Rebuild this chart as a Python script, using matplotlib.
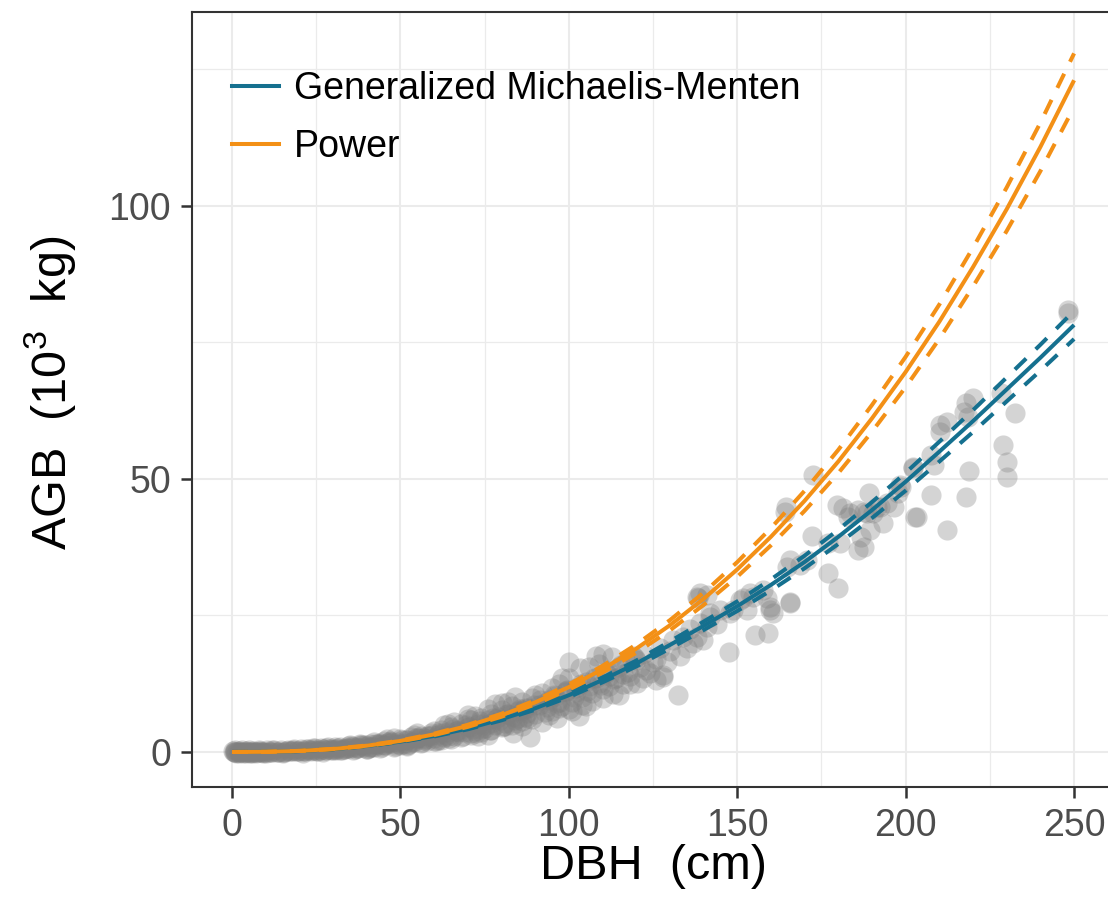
import matplotlib
matplotlib.use("Agg")
import matplotlib.pyplot as plt
from matplotlib.lines import Line2D
from matplotlib.ticker import MultipleLocator

plt.rcParams['font.family'] = ['Liberation Sans', 'DejaVu Sans']
plt.rcParams['mathtext.fontset'] = 'custom'
plt.rcParams['mathtext.rm'] = 'Liberation Sans'
plt.rcParams['mathtext.default'] = 'regular'

# ---------------- data ----------------
curve_dbh = [0, 10, 20, 30, 40, 50, 60, 70, 80, 90, 100, 110, 120, 130, 140, 150,
             160, 170, 180, 190, 200, 210, 220, 230, 240, 250]
gmm_fit = [0, 0.03, 0.18, 0.52, 1.1, 1.9, 2.95, 4.3, 6.0, 8.0, 10.4, 13.2, 16.2, 19.6,
           23.1, 26.7, 30.6, 34.8, 39.4, 44.3, 49.5, 55.0, 60.6, 66.4, 72.2, 78.2]
gmm_hi = [0, 0.03, 0.19, 0.54, 1.14, 1.96, 3.05, 4.44, 6.2, 8.26, 10.74, 13.64, 16.73,
          20.25, 23.86, 27.58, 31.61, 35.95, 40.7, 45.76, 51.13, 56.82, 62.6, 68.59, 74.58, 80.78]
gmm_lo = [0, 0.03, 0.17, 0.5, 1.06, 1.84, 2.85, 4.16, 5.8, 7.74, 10.06, 12.76, 15.67,
          18.95, 22.34, 25.82, 29.59, 33.65, 38.1, 42.84, 47.87, 53.19, 58.6, 64.21, 69.82, 75.62]
pow_fit = [0, 0.033, 0.196, 0.552, 1.15, 2.03, 3.23, 4.79, 6.73, 9.09, 11.89, 15.16, 18.92,
           23.21, 28.04, 33.44, 39.42, 46.0, 53.2, 61.1, 69.6, 78.8, 88.8, 99.4, 110.8, 123.0]
pow_hi = [0, 0.034, 0.204, 0.574, 1.196, 2.11, 3.36, 4.98, 7.0, 9.45, 12.37, 15.77, 19.68,
          24.14, 29.16, 34.78, 41.0, 47.84, 55.33, 63.54, 72.38, 81.95, 92.35, 103.38, 115.23, 127.92]
pow_lo = [0, 0.032, 0.188, 0.53, 1.104, 1.95, 3.1, 4.6, 6.46, 8.73, 11.41, 14.55, 18.16,
          22.28, 26.92, 32.1, 37.84, 44.16, 51.07, 58.66, 66.82, 75.65, 85.25, 95.42, 106.37, 118.08]

obs_dbh = [
    0.5, 1, 2, 3, 4, 5, 6, 7, 8, 9, 10, 12, 14, 16, 18, 20, 22, 24, 26, 28, 30,
    22, 25, 28, 30, 27,
    31, 32, 33, 34, 35, 36, 37, 38, 39, 40, 41, 42, 43, 44, 45, 46, 47, 48, 49, 50,
    51, 52, 53, 54, 55, 56, 57, 58, 59, 60,
    35, 40, 45, 50, 55, 60, 42, 48, 52, 58,
    61, 62, 63, 64, 65, 66, 67, 68, 69, 70, 71, 72, 73, 74, 75, 76, 77, 78, 79, 80,
    81, 82, 83, 84, 85, 86, 87, 88, 89, 90,
    63, 66, 70, 73, 76, 80, 84, 86, 88.5, 83.5, 78, 90, 72,
    91, 92, 93, 94, 95, 96.6, 96.5, 97, 98, 99, 100, 101, 102, 103.4, 104, 105, 106, 107,
    108, 109, 110, 111, 112, 112.9, 114, 115, 116, 117, 118, 119, 120.3, 121, 122, 124, 125,
    92, 95, 98, 100, 105, 108, 110, 115, 100, 103,
    128, 128, 126, 127, 129, 130, 131, 133, 134, 135, 136, 137, 138.1, 139, 139.9,
    138.4, 141.1, 138.1, 142, 139, 142, 141.1, 144, 145, 132.5,
    147.4, 147.9, 148.8, 150.9, 151.8, 153, 153.9, 154.8, 155.4, 157.5, 158.9, 159.2,
    159.8, 159.8, 160.7, 164.3, 164.6, 164.9, 165.8, 165.8, 165.8, 168.7, 170.8, 172.3,
    172.6, 176.8, 176.8, 179.7, 180, 180.6, 181.5, 183, 183.6, 185.7, 185.7, 186.6,
    187.5, 187.5, 188.6, 189, 189.5, 190.4, 191.6, 192.5, 193.4, 194.6, 196.4, 197.6,
    198.4, 198.5,
    202.3, 202.3, 202.9, 203.5, 207.4, 208.3, 207.4, 210.3, 210.3, 212.4, 212.4, 217.2,
    217.8, 218.4, 220.1, 218.7, 217.8, 228.2, 228.8, 230.2, 230.2, 232.6, 248.1, 248.1,
    # second pass through the dense lower cloud
    0.8, 1.5, 2.5, 3.5, 4.5, 5.5, 6.5, 7.5, 8.5, 9.5, 11, 13, 15, 17, 19, 21, 23, 25, 29,
    1, 2, 3, 4, 5, 6, 8, 10, 12, 15, 18, 21, 24, 27,
    31.5, 33.5, 35.5, 37.5, 39.5, 41.5, 43.5, 45.5, 47.5, 49.5, 51.5, 53.5, 55.5, 57.5, 59.5,
    32, 36, 40, 44, 48, 52, 56, 60, 38, 46, 54,
    61.5, 63.5, 65.5, 67.5, 69.5, 71.5, 73.5, 75.5, 77.5, 79.5, 81.5, 83.5, 85.5, 87.5, 89.5,
    62, 65, 68, 71, 74, 77, 80, 83, 86, 89, 64, 70, 76, 82,
    91.5, 93.5, 95.5, 97.5, 99.5, 101.5, 103.5, 105.5, 107.5, 109.5, 111.5, 113.5, 115.5,
    117.5, 119.5, 94, 97, 101, 104, 107, 110, 113, 118, 122, 123, 126,
    # third pass
    0.3, 1.2, 2.2, 3.2, 4.2, 5.2, 6.2, 7.2, 8.2, 9.2, 10.5, 11.5, 12.5, 13.5, 14.5, 15.5,
    16.5, 17.5, 18.5, 19.5, 20.5, 21.5, 22.5, 23.5, 24.5, 25.5, 26.5, 27.5, 28.5, 29.5,
    30.5, 32.5, 34.5, 36.5, 38.5, 40.5, 42.5, 44.5, 46.5, 48.5, 50.5, 52.5, 54.5, 56.5,
    58.5, 60.5, 62.5, 64.5, 66.5, 68.5, 70.5, 72.5, 74.5, 76.5, 78.5, 80.5, 82.5, 84.5,
    86.5, 88, 31, 34, 37, 41, 44, 47, 51, 54, 57, 61, 64, 67, 71, 74, 77, 81, 85, 87,
    93, 96, 99, 102, 106, 109, 112, 116, 120,
]
obs_agb = [
    0, 0, 0, 0, 0, 0.01, 0.01, 0.01, 0.02, 0.02, 0.03, 0.05, 0.07, 0.1, 0.14, 0.19, 0.25,
    0.33, 0.4, 0.45, 0.55,
    0.5, 0.1, 0.75, 0.3, 0.6,
    0.6, 0.9, 0.5, 0.8, 0.7, 1.0, 0.75, 1.2, 0.9, 1.1, 1.5, 1.0, 1.4, 1.7, 1.2, 1.6, 2.0,
    1.4, 1.9, 2.4, 1.6, 2.2, 2.8, 1.9, 2.5, 3.0, 2.2, 2.9, 3.5, 2.6,
    1.3, 0.5, 2.1, 1.2, 3.4, 3.9, 1.8, 2.6, 1.1, 2.0,
    3.2, 4.0, 2.7, 3.6, 4.5, 3.0, 4.1, 5.2, 3.6, 4.6, 5.8, 3.9, 5.1, 6.3, 4.4, 5.8, 7.0,
    4.9, 6.4, 7.7, 5.3, 6.9, 8.4, 5.8, 7.5, 9.2, 6.4, 8.1, 9.9, 7.0,
    5.0, 5.5, 6.8, 2.9, 3.2, 9.0, 10.0, 4.8, 2.8, 3.5, 8.8, 10.5, 6.5,
    8.6, 10.8, 7.4, 9.5, 11.8, 6.2, 9.0, 12.5, 8.5, 11.0, 13.5, 9.2, 11.8, 15.4, 10.0,
    12.8, 15.5, 10.8, 13.5, 16.2, 11.5, 14.5, 12.0, 17.4, 13.5, 15.5, 12.5, 16.5, 14.0,
    17.5, 12.6, 15.5, 18.0, 14.5, 16.5,
    5.5, 7.5, 13.5, 7.8, 8.5, 17.5, 18.0, 10.5, 16.5, 6.5,
    14.1, 13.7, 17.0, 19.0, 16.5, 18.5, 20.5, 17.5, 21.0, 19.0, 22.5, 20.0, 21.1, 23.6,
    20.5, 28.2, 28.8, 28.4, 24.7, 29.1, 25.5, 22.9, 23.5, 26.0, 10.4,
    18.3, 25.5, 26.0, 27.8, 28.2, 26.0, 29.1, 28.4, 21.4, 29.7, 28.2, 21.8,
    26.0, 26.6, 25.5, 44.0, 44.9, 33.9, 35.2, 27.5, 27.3, 34.2, 35.2, 39.6,
    50.7, 38.3, 32.8, 45.2, 30.0, 38.3, 44.7, 43.0, 43.8, 37.0, 44.3, 39.4,
    37.5, 44.0, 43.8, 47.4, 40.7, 43.8, 44.9, 44.9, 41.9, 45.6, 44.9, 47.4,
    48.9, 48.5,
    52.0, 52.2, 43.0, 43.0, 54.4, 52.6, 47.1, 59.9, 58.6, 60.4, 40.7, 62.3,
    63.9, 61.4, 64.8, 51.5, 46.7, 65.8, 56.2, 53.1, 50.4, 62.1, 81.0, 80.4,
    # second pass
    0, 0, 0, 0, 0.01, 0.01, 0.01, 0.02, 0.02, 0.03, 0.04, 0.06, 0.08, 0.12, 0.16, 0.22,
    0.29, 0.35, 0.5,
    0.3, -0.2, 0.35, -0.25, 0.3, -0.2, 0.3, -0.25, 0.35, -0.2, 0.45, -0.1, 0.65, 0.05,
    0.75, 0.55, 1.05, 0.7, 1.25, 1.0, 1.55, 1.2, 1.8, 1.55, 2.2, 1.85, 2.6, 2.3, 3.1,
    0.3, 0.4, 0.6, 0.8, 1.0, 1.3, 1.6, 2.0, 1.5, 2.3, 3.2,
    3.5, 3.1, 4.2, 3.7, 4.9, 4.3, 5.6, 5.0, 6.2, 5.8, 7.0, 6.4, 7.8, 7.2, 8.6,
    2.2, 2.4, 2.8, 3.2, 3.6, 4.0, 4.6, 5.0, 5.6, 6.0, 5.2, 6.0, 7.8, 9.2,
    9.5, 8.3, 10.4, 9.2, 11.4, 10.1, 12.4, 11.2, 13.6, 12.3, 14.8, 13.4, 16.0, 14.6, 17.2,
    6.8, 8.0, 7.5, 8.6, 9.3, 9.8, 10.6, 12.5, 13.5, 15.0, 13.2,
    # third pass
    0.15, -0.15, 0.2, -0.15, 0.2, -0.1, 0.25, -0.1, 0.25, -0.1, 0.3, -0.05, 0.35, 0.0,
    0.4, 0.05, 0.45, 0.1, 0.5, 0.1, 0.55, 0.15, 0.6, 0.2, 0.7, 0.25, 0.8, 0.3, 0.9, 0.35,
    0.95, 0.45, 1.15, 0.6, 1.35, 0.75, 1.55, 0.95, 1.85, 1.15, 2.15, 1.45, 2.5, 1.75,
    2.9, 2.1, 3.4, 2.5, 3.9, 3.0, 4.5, 3.5, 5.2, 4.0, 6.0, 4.7, 6.8, 5.4, 7.6, 6.3,
    0.45, 0.7, 1.0, 0.9, 1.3, 1.7, 1.4, 2.0, 2.6, 2.2, 2.9, 3.8, 3.4, 4.2, 5.4, 4.7, 6.2, 8.0,
    9.0, 10.2, 11.2, 11.0, 12.0, 12.6, 14.0, 14.2, 16.8,
]

legend_labels = ["Generalized Michaelis-Menten", "Power"]
x_ticks = [0, 50, 100, 150, 200, 250]
y_ticks = [0, 50, 100]

# ---------------- styling ----------------
BLUE = "#15708F"
ORANGE = "#F39016"
W, H = 1108, 913
fig = plt.figure(figsize=(W / 100, H / 100), dpi=100)
ax_left, ax_right, ax_top, ax_bottom = 192, 1114.5, 12, 787
ax = fig.add_axes([ax_left / W, 1 - ax_bottom / H, (ax_right - ax_left) / W, (ax_bottom - ax_top) / H])

ax.set_xlim(-11.9, 262.0)
ax.set_ylim(-6.41, 135.5)

ax.set_xticks(x_ticks)
ax.set_yticks(y_ticks)
ax.xaxis.set_minor_locator(MultipleLocator(25))
ax.yaxis.set_minor_locator(MultipleLocator(25))
ax.grid(which='major', color='#EBEBEB', lw=1.5, zorder=0)
ax.grid(which='minor', color='#EBEBEB', lw=0.9, zorder=0)
ax.set_axisbelow(True)
ax.tick_params(which='minor', length=0)
ax.tick_params(which='major', length=8, width=1.8, color='#333333',
               labelsize=27, labelcolor='#4D4D4D', pad=7)
for s in ['left', 'bottom', 'top']:
    ax.spines[s].set_color('#333333')
    ax.spines[s].set_linewidth(1.5)
ax.spines['right'].set_visible(False)

ax.scatter(obs_dbh, obs_agb, s=210, color='#7F7F7F', alpha=0.33, linewidths=0, zorder=2)

LW = 2.9
DASH = (3.9, 3.3)
ax.plot(curve_dbh, gmm_lo, color=BLUE, lw=LW, dashes=DASH, zorder=3)
ax.plot(curve_dbh, gmm_hi, color=BLUE, lw=LW, dashes=DASH, zorder=3)
ax.plot(curve_dbh, gmm_fit, color=BLUE, lw=LW, zorder=3, solid_capstyle='butt')
ax.plot(curve_dbh, pow_lo, color=ORANGE, lw=LW, dashes=DASH, zorder=4)
ax.plot(curve_dbh, pow_hi, color=ORANGE, lw=LW, dashes=DASH, zorder=4)
ax.plot(curve_dbh, pow_fit, color=ORANGE, lw=LW, zorder=4, solid_capstyle='butt')

handles = [Line2D([], [], color=BLUE, lw=LW), Line2D([], [], color=ORANGE, lw=LW)]
ax.legend(handles, legend_labels, loc='upper left', bbox_to_anchor=(0.0434, 0.924),
          frameon=False, borderpad=0, borderaxespad=0, handlelength=1.25,
          handletextpad=0.4, labelspacing=0.58, fontsize=27)

fig.text(654 / W, 1 - 866 / H, "DBH  (cm)", fontsize=35, ha='center', va='center')
fig.text(50 / W, 1 - 393 / H, "AGB  (10$^{3}$  kg)", fontsize=35, ha='center', va='center',
         rotation=90)

fig.savefig("out.png", dpi=100)
